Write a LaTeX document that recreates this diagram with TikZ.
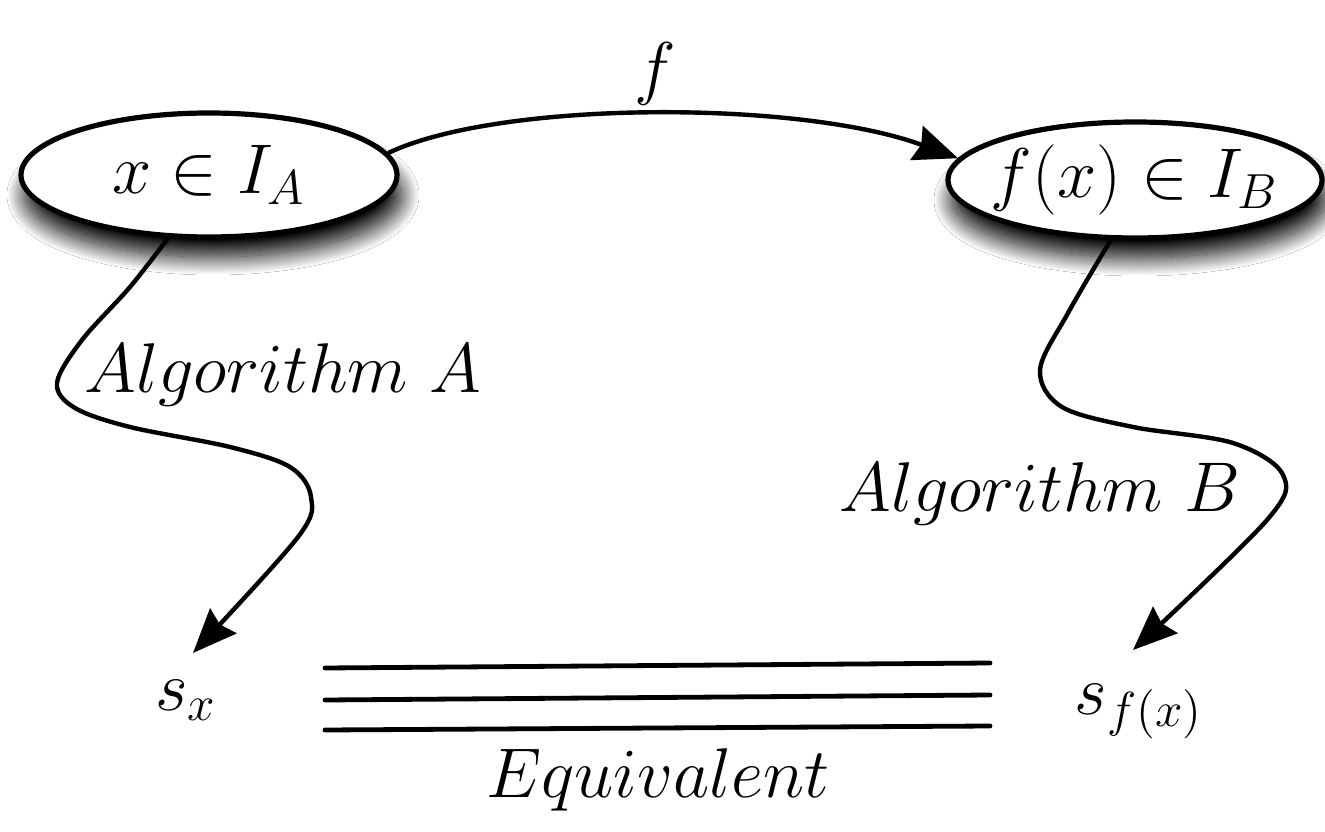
\RequirePackage{fix-cm}
\documentclass[tikz,border=0pt]{standalone}
\usetikzlibrary{shapes.geometric,shadows.blur,arrows.meta,calc}
\tikzset{
  setnode/.style={ellipse, draw, line width=1.3pt, fill=white, inner sep=0pt,
    minimum width=94pt, minimum height=31pt, font=\fontsize{17.6}{21}\selectfont,
    blur shadow={shadow xshift=1pt, shadow yshift=-5pt, shadow blur radius=4.5pt,
      shadow blur steps=40, shadow opacity=100}},
  lbl/.style={inner sep=0pt, anchor=base, font=\fontsize{17.6}{21}\selectfont},
  conn/.style={line width=1.1pt, -{Stealth[length=11pt,width=9pt,inset=1.2pt]}},
  eqline/.style={line width=1.2pt, line cap=round}
}
\begin{document}
\begin{tikzpicture}[x=0.25pt,y=-0.25pt]
\useasboundingbox (0,0) rectangle (1325,832);
\fill[white] (0,0) rectangle (1325,832);
\node[setnode] (A) at (209,175) {$x\in I_A$};
\node[setnode, inner xsep=-3.2pt, minimum width=93.5pt, minimum height=29pt] (B) at (1135,180) {$f(x)\in I_B$};
\node[lbl] (flbl) at (655,92) {$f$};
\node[lbl] (algA) at (283,393) {$Algorithm\ A$};
\node[lbl] (algB) at (1040,512) {$Algorithm\ B$};
\node[lbl] (sx) at (186,710) {$s_x$};
\node[lbl] (sfx) at (1139,714) {$s_{f(x)}$};
\node[lbl] (eq) at (658,797) {$Equivalent$};
\coordinate (tipA) at (193,653);
\coordinate (tipB) at (1133,650);
% f arrow
\draw[conn] (A.7) .. controls (500,100) and (800,100) .. (B.173);
% algorithm A
\draw[conn] plot[smooth, tension=0.55] coordinates
  {(A.237) (130,287) (82,340) (57,383) (75,408) (130,427) (230,447) (290,467) (311,497) (298,537) (tipA)};
% algorithm B
\draw[conn] plot[smooth, tension=0.55] coordinates
  {(B.248) (1068,313) (1040,370) (1062,407) (1133,427) (1233,443) (1283,475) (1267,520) (tipB)};
% equivalence lines
\draw[eqline] (325,668) -- (990,663);
\draw[eqline] (325,700) -- (990,695);
\draw[eqline] (325,730) -- (990,726);
\end{tikzpicture}
\end{document}
